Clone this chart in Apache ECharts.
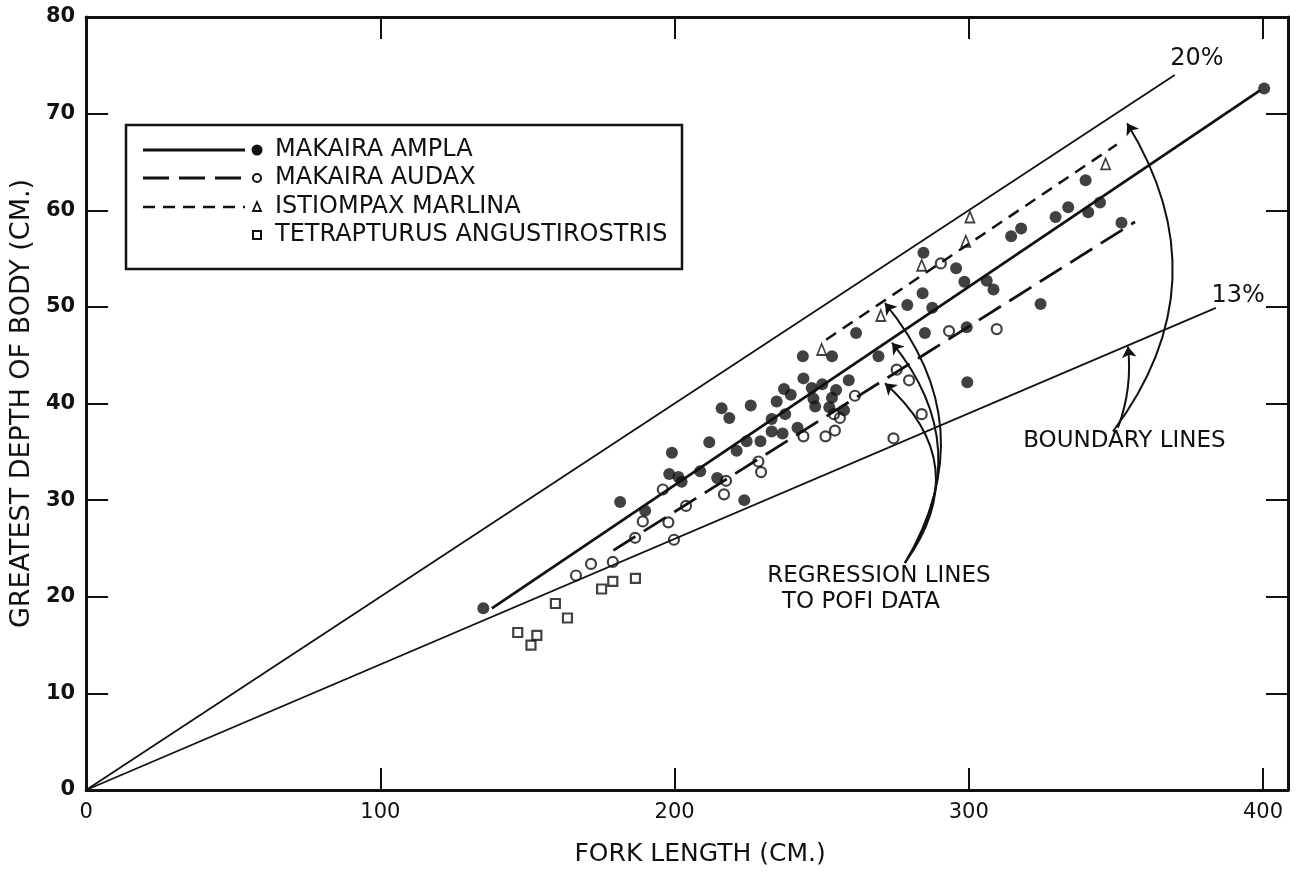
<!DOCTYPE html>
<html>
<head>
<meta charset="utf-8">
<script src="https://cdn.jsdelivr.net/npm/echarts@6/dist/echarts.min.js"></script>
<style>
  html, body { margin: 0; padding: 0; background: #fff; }
  #chart { width: 1300px; height: 874px; }
</style>
</head>
<body>
<div id="chart"></div>
<script>
// fork length (cm), greatest depth (cm)
const amplaPoints = [
  [135.0, 18.8], [181.5, 29.8], [190.0, 28.9], [198.2, 32.7], [199.1, 34.9], [201.3, 32.4],
  [202.4, 31.9], [208.7, 33.0], [211.8, 36.0], [214.5, 32.3], [216.0, 39.5], [218.6, 38.5],
  [221.1, 35.1], [223.7, 30.0], [224.5, 36.1], [225.9, 39.8], [229.2, 36.1], [233.0, 38.4],
  [233.0, 37.1], [234.7, 40.2], [236.7, 36.9], [237.2, 41.5], [237.6, 38.9], [239.5, 40.9],
  [241.8, 37.5], [243.6, 44.9], [243.8, 42.6], [246.6, 41.6], [247.2, 40.5], [247.8, 39.7],
  [250.2, 42.0], [252.6, 39.6], [253.5, 44.9], [253.5, 40.6], [254.9, 41.4], [257.6, 39.3],
  [259.2, 42.4], [261.7, 47.3], [269.3, 44.9], [279.1, 50.2], [284.3, 51.4], [284.6, 55.6],
  [285.1, 47.3], [287.6, 49.9], [295.7, 54.0], [298.5, 52.6], [299.3, 47.9], [299.5, 42.2],
  [306.1, 52.7], [308.4, 51.8], [314.4, 57.3], [317.8, 58.1], [324.4, 50.3], [329.5, 59.3],
  [333.8, 60.3], [339.7, 63.1], [340.6, 59.8], [344.6, 60.8], [351.9, 58.7], [400.4, 72.6]
];
const audaxPoints = [
  [166.5, 22.2], [171.6, 23.4], [179.0, 23.6], [186.6, 26.1], [189.2, 27.8], [196.0, 31.1],
  [197.9, 27.7], [199.8, 25.9], [203.9, 29.4], [216.8, 30.6], [217.5, 32.0], [228.5, 34.0],
  [229.4, 32.9], [243.8, 36.6], [251.3, 36.6], [254.5, 37.2], [254.2, 38.9], [256.2, 38.5],
  [261.3, 40.8], [274.4, 36.4], [275.5, 43.5], [279.7, 42.4], [284.0, 38.9], [290.5, 54.5],
  [293.3, 47.5], [309.5, 47.7]
];
const marlinaPoints = [
  [250.0, 45.6], [270.1, 49.1], [284.0, 54.3], [299.0, 56.8], [300.4, 59.3], [346.5, 64.8]
];
const tetrapturusPoints = [
  [146.7, 16.3], [151.2, 15.0], [153.2, 16.0], [159.5, 19.3], [163.6, 17.8], [175.2, 20.8],
  [179.0, 21.6], [186.7, 21.9]
];

// regression lines to POFI data
const amplaRegression = [[137.9, 18.8], [399.0, 72.4]];
const audaxRegression = [[179.2, 24.8], [356.5, 58.8]];
const marlinaRegression = [[251.5, 46.6], [350.3, 66.8]];

// boundary lines (20% and 13% of fork length)
const boundary20 = [[0, 0], [370, 74]];
const boundary13 = [[0, 0], [384, 49.9]];

const xTickLabels = [0, 100, 200, 300, 400];
const xTickMarks = [100, 200, 300, 400];

// annotation arrows: [tail, tip, curveness]
const boundaryArrows = [
  [[349.0, 37.1], [353.8, 69.0], -0.34],
  [[350.7, 37.5], [354.1, 45.9], -0.12]
];
const regressionArrows = [
  [[278.3, 23.5], [271.5, 50.4], -0.35],
  [[278.3, 23.5], [273.9, 46.3], -0.36],
  [[278.3, 23.5], [271.5, 42.1], -0.45]
];

const legendNames = [
  "MAKAIRA AMPLA",
  "MAKAIRA AUDAX",
  "ISTIOMPAX MARLINA",
  "TETRAPTURUS ANGUSTIROSTRIS"
];

const FONT = "DejaVu Sans";
const INK = "#111";

const chart = echarts.init(document.getElementById("chart"));

const axisCommon = {
  type: "value",
  axisLine: { show: true, onZero: false, lineStyle: { color: INK, width: 3 } },
  splitLine: { show: false },
  axisTick: { inside: true, length: 22, lineStyle: { color: INK, width: 2 } }
};

const openMarker = {
  color: "rgba(255,255,255,0)",
  borderColor: INK,
  borderWidth: 2.2
};

const arrowSeries = (name, arrows) => ({
  name,
  type: "lines",
  coordinateSystem: "cartesian2d",
  symbol: ["none", "arrow"],
  symbolSize: 11,
  silent: true,
  z: 4,
  data: arrows.map(([tail, tip, c]) => ({
    coords: [tail, tip],
    lineStyle: { curveness: c }
  })),
  lineStyle: { color: INK, width: 2, opacity: 1 }
});

const lineSeries = (name, data, width, dash) => ({
  name,
  type: "line",
  data,
  symbol: "none",
  silent: true,
  z: 3,
  lineStyle: { color: INK, width, type: dash || "solid" }
});

chart.setOption({
  animation: false,
  backgroundColor: "#fff",
  grid: { left: 86, top: 17, width: 1202, height: 773 },
  xAxis: [
    {
      ...axisCommon,
      position: "bottom",
      min: 0,
      max: 408.5,
      axisTick: { ...axisCommon.axisTick, customValues: xTickMarks },
      axisLabel: {
        customValues: xTickLabels,
        margin: 12,
        color: INK,
        fontFamily: FONT,
        fontSize: 21
      },
      name: "FORK LENGTH (CM.)",
      nameLocation: "middle",
      nameGap: 52,
      nameTextStyle: { color: INK, fontFamily: FONT, fontSize: 25, padding: [0, 0, 0, 26] }
    },
    {
      ...axisCommon,
      position: "top",
      min: 0,
      max: 408.5,
      axisTick: { ...axisCommon.axisTick, customValues: xTickMarks },
      axisLabel: { show: false }
    }
  ],
  yAxis: [
    {
      ...axisCommon,
      position: "left",
      min: 0,
      max: 80,
      interval: 10,
      axisLabel: {
        margin: 11,
        color: INK,
        fontFamily: FONT,
        fontWeight: "bold",
        fontSize: 21
      },
      name: "GREATEST DEPTH OF BODY (CM.)",
      nameLocation: "middle",
      nameRotate: 90,
      nameGap: 42,
      nameTextStyle: { color: INK, fontFamily: FONT, fontSize: 27 }
    },
    {
      ...axisCommon,
      position: "right",
      min: 0,
      max: 80,
      interval: 10,
      axisLabel: { show: false }
    }
  ],
  series: [
    lineSeries("20%", boundary20, 1.8),
    lineSeries("13%", boundary13, 1.8),
    lineSeries("ampla regression", amplaRegression, 2.8),
    lineSeries("audax regression", audaxRegression, 2.8, [26, 10]),
    lineSeries("marlina regression", marlinaRegression, 2.5, [12, 8]),
    arrowSeries("boundary arrows", boundaryArrows),
    arrowSeries("regression arrows", regressionArrows),
    {
      name: legendNames[0],
      type: "scatter",
      data: amplaPoints,
      symbol: "circle",
      symbolSize: 12,
      z: 5,
      itemStyle: { color: INK }
    },
    {
      name: legendNames[1],
      type: "scatter",
      data: audaxPoints,
      symbol: "circle",
      symbolSize: 10,
      z: 5,
      itemStyle: openMarker
    },
    {
      name: legendNames[2],
      type: "scatter",
      data: marlinaPoints,
      symbol: "triangle",
      symbolSize: [9, 11],
      z: 5,
      itemStyle: { ...openMarker, borderWidth: 1.8 }
    },
    {
      name: legendNames[3],
      type: "scatter",
      data: tetrapturusPoints,
      symbol: "rect",
      symbolSize: 9,
      z: 5,
      itemStyle: openMarker
    }
  ]
});

// annotation text and legend box, placed from data positions
const px = (pt) => chart.convertToPixel({ xAxisIndex: 0, yAxisIndex: 0 }, pt);
const textStyle = (text, size) => ({
  text,
  fill: INK,
  font: `${size}px "${FONT}"`
});
const annotation = (text, pt, size) => {
  const [x, y] = px(pt);
  return {
    type: "text",
    x,
    y,
    silent: true,
    style: { ...textStyle(text, size || 23), textVerticalAlign: "middle" }
  };
};

const legendTop = 125;
const rowY = [150, 178, 207, 235];
const lineX0 = 143, lineX1 = 245, markX = 257, textX = 275;
const legendLine = (y, dash, w) => ({
  type: "line",
  shape: { x1: lineX0, y1: y, x2: lineX1, y2: y },
  style: { stroke: INK, lineWidth: w, lineDash: dash }
});

chart.setOption({
  graphic: [
    annotation("20%", [368.5, 75.7], 24),
    annotation("13%", [382.5, 51.2], 24),
    annotation("BOUNDARY LINES", [318.5, 36.1]),
    annotation("REGRESSION LINES", [231.5, 22.1]),
    annotation("TO POFI DATA", [236.5, 19.5]),
    {
      type: "group",
      silent: true,
      children: [
        {
          type: "rect",
          shape: { x: 126, y: legendTop, width: 556, height: 144 },
          style: { fill: "#fff", stroke: INK, lineWidth: 2.5 }
        },
        legendLine(rowY[0], null, 2.8),
        legendLine(rowY[1], [26, 10], 2.8),
        legendLine(rowY[2], [12, 8], 2.5),
        { type: "circle", shape: { cx: markX, cy: rowY[0], r: 5.5 }, style: { fill: INK } },
        { type: "circle", shape: { cx: markX, cy: rowY[1], r: 4 }, style: { fill: "none", stroke: INK, lineWidth: 2 } },
        {
          type: "polygon",
          shape: { points: [[markX, rowY[2] - 5], [markX + 4, rowY[2] + 4], [markX - 4, rowY[2] + 4]] },
          style: { fill: "none", stroke: INK, lineWidth: 1.8 }
        },
        { type: "rect", shape: { x: markX - 4, y: rowY[3] - 4, width: 8, height: 8 }, style: { fill: "none", stroke: INK, lineWidth: 2 } },
        ...legendNames.map((name, i) => ({
          type: "text",
          x: textX,
          y: rowY[i],
          style: { ...textStyle(name, 24), textVerticalAlign: "middle" }
        }))
      ]
    }
  ]
});
</script>
</body>
</html>
